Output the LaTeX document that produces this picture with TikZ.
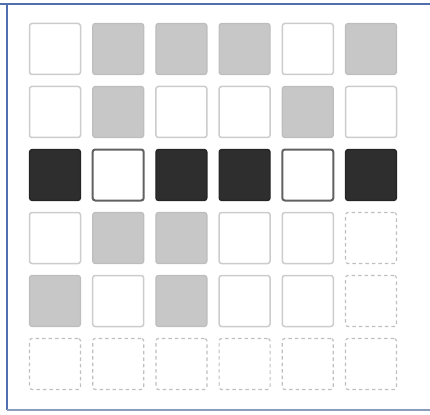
\documentclass[tikz,border=0pt]{standalone}
\usepackage{xcolor}
\usepackage{tikz}
\usetikzlibrary{positioning}

\definecolor{framebar}{HTML}{4F6FAE}
\definecolor{framebase}{HTML}{8C9CBC}

\begin{document}
\begin{tikzpicture}[
        x=1pt, y=-1pt,
        cell/.style = {rectangle, rounded corners=2.5pt, minimum size=51pt, inner sep=0pt, line width=1.2pt},
        whitecell/.style = {cell, fill=white, draw=black!20, line width=1.5pt},
        greycell/.style = {cell, fill=black!22, draw=black!26},
        darkcell/.style = {cell, fill=black!82, draw=black!86},
        ringcell/.style = {cell, fill=white, draw=black!62, line width=2pt},
        dashcell/.style = {cell, draw=black!25, line width=1.2pt, dash pattern=on 3.5pt off 3pt},
        frameline/.style = {line width=2.5pt}
    ]
    \useasboundingbox (0,0) rectangle (430,414);

    % window frame
    \draw[frameline, framebar] (0,4) -- (430,4);
    \draw[frameline, framebar] (7,4) -- (7,410);
    \draw[frameline, framebase] (7,410) -- (430,410);

    % 6 x 6 grid of cells, one row per list
    \foreach \row [count=\r] in {
        {whitecell,greycell,greycell,greycell,whitecell,greycell},
        {whitecell,greycell,whitecell,whitecell,greycell,whitecell},
        {darkcell,ringcell,darkcell,darkcell,ringcell,darkcell},
        {whitecell,greycell,greycell,whitecell,whitecell,dashcell},
        {greycell,whitecell,greycell,whitecell,whitecell,dashcell},
        {dashcell,dashcell,dashcell,dashcell,dashcell,dashcell}} {
        \foreach \kind [count=\c] in \row {
            \node[\kind] (cell\r\c) at ({55+63.2*(\c-1)}, {49+63*(\r-1)}) {};
        }
    }
\end{tikzpicture}
\end{document}
